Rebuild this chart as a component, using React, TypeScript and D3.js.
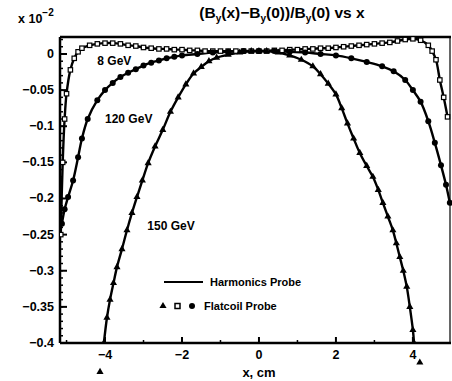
import React, { useRef, useEffect } from 'react';
import * as d3 from 'd3';

// field uniformity, units of 1e-2
const gev8 = [
  [-5.15, -0.25], [-5.1, -0.15], [-5.05, -0.09], [-5.0, -0.055], [-4.9, -0.022], [-4.8, -0.006],
  [-4.7, 0.003], [-4.6, 0.008], [-4.4, 0.012], [-4.2, 0.014], [-4.0, 0.015], [-3.8, 0.015],
  [-3.6, 0.014], [-3.4, 0.012], [-3.2, 0.011], [-3.0, 0.009], [-2.8, 0.008], [-2.6, 0.007],
  [-2.4, 0.007], [-2.2, 0.006], [-2.0, 0.006], [-1.8, 0.005], [-1.6, 0.005], [-1.4, 0.004],
  [-1.2, 0.004], [-1.0, 0.004], [-0.8, 0.004], [-0.6, 0.004], [-0.4, 0.004], [-0.2, 0.004],
  [0, 0.004], [0.2, 0.004], [0.4, 0.005], [0.6, 0.005], [0.8, 0.006], [1.0, 0.006],
  [1.2, 0.007], [1.4, 0.007], [1.6, 0.008], [1.8, 0.008], [2.0, 0.009], [2.2, 0.01],
  [2.4, 0.011], [2.6, 0.012], [2.8, 0.013], [3.0, 0.014], [3.2, 0.015], [3.4, 0.016],
  [3.6, 0.018], [3.8, 0.02], [4.0, 0.021], [4.2, 0.019], [4.4, 0.012], [4.5, 0.004],
  [4.6, -0.008], [4.7, -0.036], [4.8, -0.06], [4.9, -0.087],
];

const gev120 = [
  [-5.12, -0.235], [-5.05, -0.215], [-4.96, -0.198], [-4.83, -0.175], [-4.7, -0.143],
  [-4.6, -0.117], [-4.45, -0.09], [-4.2, -0.064], [-4.0, -0.05], [-3.8, -0.04], [-3.6, -0.032],
  [-3.4, -0.026], [-3.2, -0.021], [-3.0, -0.016], [-2.8, -0.012], [-2.6, -0.009], [-2.4, -0.006],
  [-2.2, -0.004], [-2.0, -0.002], [-1.6, 0.0], [-1.2, 0.002], [-0.8, 0.003], [-0.4, 0.004],
  [0, 0.004], [0.4, 0.004], [0.8, 0.003], [1.2, 0.002], [1.6, 0.0], [2.0, -0.002],
  [2.4, -0.006], [2.8, -0.011], [3.2, -0.017], [3.5, -0.024], [3.8, -0.036], [4.0, -0.05],
  [4.2, -0.066], [4.4, -0.093], [4.57, -0.123], [4.73, -0.154], [4.86, -0.181], [4.96, -0.206],
];

const gev150 = [
  [-4.03, -0.4], [-3.95, -0.365], [-3.87, -0.34], [-3.78, -0.317], [-3.69, -0.295],
  [-3.56, -0.27], [-3.43, -0.244], [-3.3, -0.22], [-3.17, -0.198], [-3.03, -0.175],
  [-2.88, -0.151], [-2.7, -0.128], [-2.5, -0.105], [-2.3, -0.08], [-2.1, -0.06],
  [-1.9, -0.042], [-1.7, -0.027], [-1.5, -0.018], [-1.3, -0.01], [-1.1, -0.005],
  [-0.8, -0.001], [-0.5, 0.002], [-0.2, 0.004], [0, 0.004], [0.2, 0.004], [0.5, 0.002],
  [0.8, -0.002], [1.1, -0.008], [1.4, -0.017], [1.6, -0.028], [1.8, -0.041], [2.0, -0.056],
  [2.15, -0.075], [2.3, -0.096], [2.46, -0.117], [2.62, -0.137], [2.8, -0.155], [2.96, -0.17],
  [3.1, -0.188], [3.22, -0.206], [3.35, -0.225], [3.48, -0.244], [3.57, -0.262], [3.66, -0.281],
  [3.75, -0.3], [3.84, -0.322], [3.92, -0.35], [4.0, -0.382], [4.03, -0.4],
];

// flatcoil points that fell below the frame
const gev150Out = [[-4.13, -0.44], [4.18, -0.427]];

const xTicks = [-4, -2, 0, 2, 4];
const xMinor = [-5, -3, -1, 1, 3];
const yTicks = [0, -0.05, -0.1, -0.15, -0.2, -0.25, -0.3, -0.35, -0.4];

const curveLabels = [
  { text: '8 GeV', x: -4.2, y: -0.015 },
  { text: '120 GeV', x: -4.0, y: -0.096 },
  { text: '150 GeV', x: -2.9, y: -0.243 },
];

const Chart = () => {
  const svgRef = useRef<SVGSVGElement>(null);
  const W = 452, H = 381;
  const left = 60, right = 451, top = 37, bottom = 343;

  useEffect(() => {
    const svg = d3.select(svgRef.current);
    svg.selectAll('*').remove();
    const font = 'Liberation Sans, Arial, sans-serif';

    const x = d3.scaleLinear().domain([-5.17, 4.99]).range([left, right]);
    const y = d3.scaleLinear().domain([0.0235, -0.4]).range([top, bottom]);

    svg.append('defs').append('clipPath').attr('id', 'plotclip')
      .append('rect').attr('x', left).attr('y', top - 4)
      .attr('width', right - left + 2).attr('height', bottom - top + 4);

    // frame
    svg.append('line').attr('x1', left).attr('x2', right).attr('y1', top).attr('y2', top)
      .attr('stroke', '#000').attr('stroke-width', 2.5);
    svg.append('line').attr('x1', right - 1).attr('x2', right - 1).attr('y1', top).attr('y2', bottom)
      .attr('stroke', '#000').attr('stroke-width', 1.2);
    svg.append('line').attr('x1', left).attr('x2', right).attr('y1', bottom).attr('y2', bottom)
      .attr('stroke', '#000').attr('stroke-width', 2.5);
    svg.append('line').attr('x1', left).attr('x2', left).attr('y1', top).attr('y2', bottom)
      .attr('stroke', '#000').attr('stroke-width', 2.5);

    // y ticks, minor every 0.01
    const yMinor = d3.range(0, 41).map(i => -i * 0.01).concat([0.01, 0.02]);
    svg.append('g').selectAll('line').data(yMinor).enter().append('line')
      .attr('x1', left).attr('x2', left + 3)
      .attr('y1', d => y(d)).attr('y2', d => y(d))
      .attr('stroke', '#000').attr('stroke-width', 1.5);
    svg.append('g').selectAll('line').data(yTicks).enter().append('line')
      .attr('x1', left).attr('x2', left + 7)
      .attr('y1', d => y(d)).attr('y2', d => y(d))
      .attr('stroke', '#000').attr('stroke-width', 2);
    svg.append('g').selectAll('text').data(yTicks).enter().append('text')
      .attr('x', left - 6).attr('y', d => y(d) + 4)
      .attr('text-anchor', 'end').attr('font-family', font).attr('font-weight', 'bold')
      .attr('font-size', 12.5)
      .text(d => (d === 0 ? '0' : '−' + String(Math.abs(d)).replace(/^0/, '0')));

    // x ticks
    svg.append('g').selectAll('line').data(xMinor).enter().append('line')
      .attr('x1', d => x(d)).attr('x2', d => x(d))
      .attr('y1', bottom).attr('y2', bottom - 3)
      .attr('stroke', '#000').attr('stroke-width', 1.5);
    svg.append('g').selectAll('line').data(xTicks).enter().append('line')
      .attr('x1', d => x(d)).attr('x2', d => x(d))
      .attr('y1', bottom).attr('y2', bottom - 6)
      .attr('stroke', '#000').attr('stroke-width', 2);
    svg.append('g').selectAll('text').data(xTicks).enter().append('text')
      .attr('x', d => x(d)).attr('y', bottom + 16)
      .attr('text-anchor', 'middle').attr('font-family', font).attr('font-weight', 'bold')
      .attr('font-size', 12.5)
      .text(d => (d < 0 ? '−' + Math.abs(d) : String(d)));

    svg.append('text').attr('x', 259).attr('y', 377).attr('text-anchor', 'middle')
      .attr('font-family', font).attr('font-weight', 'bold').attr('font-size', 13)
      .text('x, cm');

    // exponent label
    const ex = svg.append('text').attr('x', 18).attr('y', 23)
      .attr('font-family', font).attr('font-weight', 'bold').attr('font-size', 12.5);
    ex.append('tspan').text('x 10');
    ex.append('tspan').attr('dy', -7).attr('font-size', 10).text('−2');

    // title
    const t = svg.append('text').attr('x', 282).attr('y', 22).attr('text-anchor', 'middle')
      .attr('font-family', font).attr('font-weight', 'bold').attr('font-size', 15.5);
    const parts: [string, boolean][] = [
      ['(B', false], ['y', true], ['(x)−B', false], ['y', true], ['(0))/B', false], ['y', true], ['(0) vs x', false],
    ];
    parts.forEach(([s, sub]) => {
      if (sub) t.append('tspan').attr('dy', 4).attr('font-size', 10).text(s);
      else t.append('tspan').attr('dy', t.selectAll('tspan').size() ? -4 : 0).text(s);
    });

    const plot = svg.append('g').attr('clip-path', 'url(#plotclip)');
    const line = d3.line<number[]>()
      .x(d => x(d[0])).y(d => y(d[1]))
      .curve(d3.curveCatmullRom.alpha(0.5));

    [gev8, gev120, gev150].forEach(s => {
      plot.append('path').datum(s).attr('d', line)
        .attr('fill', 'none').attr('stroke', '#000').attr('stroke-width', 2.4);
    });

    // flatcoil markers
    plot.append('g').selectAll('rect').data(gev8).enter().append('rect')
      .attr('x', d => x(d[0]) - 2.2).attr('y', d => y(d[1]) - 2.2)
      .attr('width', 4.4).attr('height', 4.4)
      .attr('fill', '#fff').attr('stroke', '#000').attr('stroke-width', 1.2);
    plot.append('g').selectAll('circle').data(gev120).enter().append('circle')
      .attr('cx', d => x(d[0])).attr('cy', d => y(d[1])).attr('r', 3)
      .attr('fill', '#000');
    const tri = d3.symbol().type(d3.symbolTriangle).size(22);
    plot.append('g').selectAll('path').data(gev150).enter().append('path')
      .attr('d', tri).attr('transform', d => `translate(${x(d[0])},${y(d[1])})`)
      .attr('fill', '#000');
    svg.append('g').selectAll('path').data(gev150Out).enter().append('path')
      .attr('d', tri).attr('transform', d => `translate(${x(d[0])},${y(d[1])})`)
      .attr('fill', '#000');

    // curve labels
    svg.append('g').selectAll('text').data(curveLabels).enter().append('text')
      .attr('x', d => x(d.x)).attr('y', d => y(d.y))
      .attr('font-family', font).attr('font-weight', 'bold').attr('font-size', 12)
      .text(d => d.text);

    // legend
    const lg = svg.append('g').attr('font-family', font).attr('font-weight', 'bold').attr('font-size', 11);
    lg.append('line').attr('x1', 164).attr('x2', 203).attr('y1', 282).attr('y2', 282)
      .attr('stroke', '#000').attr('stroke-width', 2);
    lg.append('text').attr('x', 210).attr('y', 286).text('Harmonics Probe');
    lg.append('path').attr('d', tri).attr('transform', 'translate(163,306)').attr('fill', '#000');
    lg.append('rect').attr('x', 175).attr('y', 303.5).attr('width', 5).attr('height', 5)
      .attr('fill', '#fff').attr('stroke', '#000').attr('stroke-width', 1.5);
    lg.append('circle').attr('cx', 192).attr('cy', 306).attr('r', 3).attr('fill', '#000');
    lg.append('text').attr('x', 204).attr('y', 310).text('Flatcoil Probe');
  }, []);

  return <svg ref={svgRef} width={W} height={H} style={{ display: 'block' }} />;
};

export default function App() {
  return (
    <div style={{ position: 'absolute', left: 0, top: 0, background: '#fff' }}>
      <Chart />
    </div>
  );
}
